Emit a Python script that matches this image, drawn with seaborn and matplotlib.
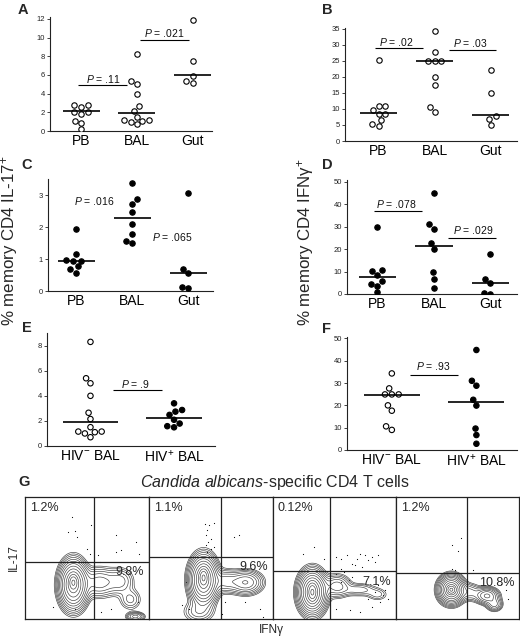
import numpy as np
import pandas as pd
import matplotlib
matplotlib.use("Agg")
import matplotlib.pyplot as plt
import seaborn as sns

sns.set_theme(style="white")
plt.rcParams["font.family"] = ["Liberation Sans", "DejaVu Sans"]
plt.rcParams["mathtext.fontset"] = "custom"
plt.rcParams["mathtext.rm"] = "Liberation Sans"
plt.rcParams["mathtext.it"] = "Liberation Sans:italic"
plt.rcParams["mathtext.bf"] = "Liberation Sans:bold"

# ---------------- data ----------------
sites = ["PB", "BAL", "Gut"]
hiv_groups = ["HIV$^{-}$ BAL", "HIV$^{+}$ BAL"]

# HIV- (open circles), % memory CD4 IL-17+
il17_neg_pb = [2.8, 2.75, 2.6, 2.05, 1.85, 2.0, 1.1, 0.9, 0.2]
il17_neg_bal = [8.3, 5.0, 5.4, 4.0, 2.65, 2.15, 1.5, 1.15, 1.1, 1.0, 1.15, 0.7]
il17_neg_gut = [11.9, 7.5, 5.9, 5.1, 5.35]
il17_neg_median = [2.1, 1.95, 5.95]
# HIV- (open circles), % memory CD4 IFNg+
ifng_neg_pb = [25.2, 10.8, 11.0, 9.7, 8.5, 8.5, 6.5, 5.4, 4.6]
ifng_neg_bal = [34.3, 27.6, 24.9, 24.9, 24.9, 20.0, 17.6, 9.0, 10.6]
ifng_neg_gut = [22.1, 15.0, 7.8, 6.9, 4.9]
ifng_neg_median = [8.75, 24.9, 8.0]
# HIV+ (closed circles), % memory CD4 IL-17+
il17_pos_pb = [1.96, 1.16, 0.95, 0.93, 0.97, 0.78, 0.68, 0.58]
il17_pos_bal = [3.40, 2.87, 2.74, 2.48, 2.09, 1.79, 1.58, 1.49]
il17_pos_gut = [3.08, 0.68, 0.57, 0.08, 0.11]
il17_pos_median = [0.93, 2.29, 0.58]
# HIV+ (closed circles), % memory CD4 IFNg+
ifng_pos_pb = [30.0, 10.7, 10.2, 8.5, 5.9, 4.5, 3.7, 0.7]
ifng_pos_bal = [44.8, 31.0, 28.8, 22.5, 19.9, 9.6, 6.7, 2.8]
ifng_pos_gut = [17.7, 6.7, 4.7, 0.1, 0.6]
ifng_pos_median = [7.7, 21.5, 4.75]
bal_il17_median = [1.95, 2.27]
bal_ifng_median = [24.8, 21.6]

# p-values: (label, text x, text y, line y or None, line x0, line x1)
p_A = [("$P$ = .11", 0.40, 5.55, 4.9, -0.05, 0.82), ("$P$ = .021", 1.50, 10.5, 9.75, 1.06, 1.93)]
p_B = [("$P$ = .02", 0.32, 30.9, 29.1, -0.06, 0.79), ("$P$ = .03", 1.64, 30.6, 28.3, 1.25, 2.10)]
p_C = [("$P$ = .016", 0.32, 2.82, None, 0, 0), ("$P$ = .065", 1.71, 1.70, None, 0, 0)]
p_D = [("$P$ = .078", 0.34, 40.1, 37.1, -0.07, 0.79), ("$P$ = .029", 1.69, 28.5, 24.8, 1.25, 2.10)]
p_E = [("$P$ = .9", 0.54, 4.95, 4.44, 0.27, 0.85)]
p_F = [("$P$ = .93", 0.49, 37.6, 33.6, 0.21, 0.78)]

# flow cytometry panels (G)
flow_il17_pct = ["1.2%", "1.1%", "0.12%", "1.2%"]
flow_ifng_pct = ["9.8%", "9.6%", "7.1%", "10.8%"]
flow_gate_x = [0.56, 0.58, 0.46, 0.58]
flow_gate_y = [0.47, 0.51, 0.39, 0.38]
# population components: (x, y, sx, sy, weight)
flow_pops = [
    [(0.39, 0.28, 0.055, 0.095, 1.0), (0.39, 0.30, 0.02, 0.035, 1.0),
     (0.60, 0.30, 0.08, 0.065, 0.16), (0.77, 0.31, 0.06, 0.06, 0.10),
     (0.85, 0.16, 0.05, 0.05, 0.07), (0.89, 0.02, 0.04, 0.02, 0.15)],
    [(0.44, 0.32, 0.055, 0.095, 1.0), (0.44, 0.34, 0.02, 0.04, 1.0),
     (0.62, 0.31, 0.06, 0.05, 0.15), (0.78, 0.30, 0.07, 0.05, 0.28),
     (0.40, 0.06, 0.07, 0.05, 0.08)],
    [(0.32, 0.22, 0.055, 0.085, 1.0), (0.32, 0.22, 0.02, 0.04, 1.0),
     (0.52, 0.27, 0.06, 0.05, 0.16), (0.70, 0.24, 0.08, 0.03, 0.08),
     (0.85, 0.20, 0.05, 0.03, 0.05)],
    [(0.45, 0.24, 0.05, 0.055, 1.0), (0.45, 0.24, 0.02, 0.02, 1.0),
     (0.60, 0.22, 0.05, 0.04, 0.10), (0.74, 0.19, 0.05, 0.035, 0.30),
     (0.80, 0.12, 0.035, 0.03, 0.15)],
]
flow_events_x = [
    [0.376, 0.349, 0.403, 0.416, 0.536, 0.496, 0.523, 0.589, 0.603, 0.736, 0.776, 0.896,
     0.923, 0.736, 0.229, 0.403, 0.616, 0.696, 0.909],
    [0.451, 0.483, 0.523, 0.469, 0.456, 0.496, 0.477, 0.456, 0.496, 0.469, 0.523, 0.683,
     0.723, 0.296, 0.269, 0.323, 0.616, 0.776, 0.896, 0.589, 0.923],
    [0.336, 0.243, 0.416, 0.509, 0.549, 0.603, 0.643, 0.683, 0.709, 0.749, 0.776, 0.803,
     0.829, 0.856, 0.669, 0.723, 0.549, 0.509, 0.576, 0.643, 0.549, 0.616, 0.856, 0.829,
     0.896, 0.869, 0.776, 0.909, 0.936, 0.803, 0.629, 0.709, 0.509],
    [0.531, 0.456, 0.501, 0.456, 0.483, 0.629, 0.896, 0.909, 0.856],
]
flow_events_y = [
    [0.836, 0.713, 0.719, 0.672, 0.768, 0.577, 0.536, 0.522, 0.467, 0.686, 0.563, 0.631,
     0.536, 0.549, 0.098, 0.084, 0.057, 0.084, 0.139],
    [0.781, 0.768, 0.790, 0.727, 0.686, 0.658, 0.631, 0.604, 0.577, 0.549, 0.590, 0.672,
     0.686, 0.303, 0.112, 0.084, 0.139, 0.139, 0.084, 0.044, 0.016],
    [0.590, 0.535, 0.495, 0.508, 0.495, 0.522, 0.454, 0.495, 0.535, 0.522, 0.481, 0.508,
     0.467, 0.522, 0.440, 0.426, 0.413, 0.372, 0.385, 0.344, 0.303, 0.317, 0.276, 0.221,
     0.194, 0.139, 0.167, 0.235, 0.167, 0.098, 0.071, 0.057, 0.084],
    [0.664, 0.604, 0.557, 0.406, 0.399, 0.404, 0.235, 0.167, 0.290],
]

# ---------------- layout ----------------
W, H = 520, 637
fig = plt.figure(figsize=(W / 100, H / 100), dpi=100)


def rect(x0, x1, ytop, ybot):
    return [x0 / W, 1 - ybot / H, (x1 - x0) / W, (ybot - ytop) / H]


def long_df(groups, arrays):
    rows = []
    for g, arr in zip(groups, arrays):
        for v in arr:
            rows.append((g, v))
    return pd.DataFrame(rows, columns=["group", "value"])


def scatter_panel(box, groups, arrays, medians, filled, ylim, yticks, xlim, pvals):
    ax = fig.add_axes(rect(*box))
    df = long_df(groups, arrays)
    kw = dict(size=3.9, linewidth=0.8, edgecolor="black")
    if isinstance(filled, list):
        fc = {g: ("black" if f else "white") for g, f in zip(groups, filled)}
        sns.swarmplot(data=df, x="group", y="value", hue="group", palette=fc,
                      order=groups, hue_order=groups, legend=False, ax=ax, **kw)
    else:
        sns.swarmplot(data=df, x="group", y="value", order=groups,
                      color=("black" if filled else "white"), ax=ax, **kw)
    for i, m in enumerate(medians):
        ax.hlines(m, i - 0.33, i + 0.33, color="black", lw=1.2, zorder=4)
    for (lab, tx, ty, ly, lx0, lx1) in pvals:
        ax.text(tx, ty, lab, ha="center", va="center", fontsize=7.5, color="#111")
        if ly is not None:
            ax.hlines(ly, lx0, lx1, color="black", lw=0.8)
    ax.set_xlim(*xlim)
    ax.set_ylim(*ylim)
    ax.set_yticks(yticks)
    ax.set_xlabel("")
    ax.set_ylabel("")
    for s in ["top", "right"]:
        ax.spines[s].set_visible(False)
    for s in ["left", "bottom"]:
        ax.spines[s].set_color("#222")
        ax.spines[s].set_linewidth(0.8)
    ax.tick_params(axis="y", length=2.5, width=0.6, pad=1, labelsize=5.5,
                   colors="#222", left=True, direction="out")
    ax.tick_params(axis="x", length=0, pad=2, labelsize=10, colors="black")
    return ax


scatter_panel((50, 212, 17.1, 131), sites, [il17_neg_pb, il17_neg_bal, il17_neg_gut],
              il17_neg_median, False, (0, 12.2), range(0, 13, 2), (-0.56, 2.35), p_A)
scatter_panel((345, 517, 28, 141), sites, [ifng_neg_pb, ifng_neg_bal, ifng_neg_gut],
              ifng_neg_median, False, (0, 35.2), range(0, 36, 5), (-0.6, 2.47), p_B)
scatter_panel((48, 213, 179.4, 291), sites, [il17_pos_pb, il17_pos_bal, il17_pos_gut],
              il17_pos_median, True, (0, 3.5), range(0, 4), (-0.5, 2.44), p_C)
scatter_panel((347, 517, 180.4, 294), sites, [ifng_pos_pb, ifng_pos_bal, ifng_pos_gut],
              ifng_pos_median, True, (0, 50.6), range(0, 51, 10), (-0.54, 2.47), p_D)
scatter_panel((47, 215, 333.1, 446), hiv_groups, [il17_neg_bal, il17_pos_bal],
              bal_il17_median, [False, True], (0, 9), range(0, 9, 2), (-0.52, 1.49), p_E)
scatter_panel((347, 517, 336.6, 450), hiv_groups, [ifng_neg_bal, ifng_pos_bal],
              bal_ifng_median, [False, True], (0, 50.8), range(0, 51, 10), (-0.53, 1.48), p_F)

# panel letters
for lab, x, y in [("A", 18, 3), ("B", 322, 3), ("C", 21, 158), ("D", 322, 158),
                  ("E", 22, 321), ("F", 322, 322), ("G", 18, 475)]:
    fig.text(x / W, 1 - y / H, lab, fontsize=10.5, fontweight="bold", ha="left", va="top")

fig.text(10 / W, 1 - 241 / H, "% memory CD4 IL-17$^{+}$", rotation=90, ha="center",
         va="center", fontsize=12.2)
fig.text(306 / W, 1 - 242 / H, "% memory CD4 IFN\u03b3$^{+}$", rotation=90, ha="center",
         va="center", fontsize=12.2)

# ---------------- flow panels ----------------
fig.text(275 / W, 1 - 483 / H, "$\\it{Candida\\ albicans}$-specific CD4 T cells",
         ha="center", va="center", fontsize=11.5)
fig.text(14 / W, 1 - 558 / H, "IL-17", rotation=90, ha="center", va="center", fontsize=8.5)
fig.text(271 / W, 1 - 630 / H, "IFN\u03b3", ha="center", va="center", fontsize=8.5)

gx = np.linspace(0, 1, 300)
GX, GY = np.meshgrid(gx, gx)
flow_left = [25, 149, 273, 396]
flow_right = [149, 273, 396, 519]
for i in range(4):
    ax = fig.add_axes(rect(flow_left[i], flow_right[i], 497, 619))
    Z = np.zeros_like(GX)
    for (cx, cy, sx, sy, w) in flow_pops[i]:
        Z += w * np.exp(-0.5 * (((GX - cx) / sx) ** 2 + ((GY - cy) / sy) ** 2))
    levels = Z.max() * np.geomspace(0.01, 0.9, 13)
    ax.contour(GX, GY, Z, levels=levels, colors="#3a3a3a", linewidths=0.45)
    ax.scatter(flow_events_x[i], flow_events_y[i], s=0.7, color="black", linewidths=0)
    ax.axvline(flow_gate_x[i], color="#222", lw=0.9)
    ax.axhline(flow_gate_y[i], color="#222", lw=0.9)
    ax.text(0.04, 0.91, flow_il17_pct[i], ha="left", va="center", fontsize=9)
    ax.text(0.96, flow_gate_y[i] - 0.085, flow_ifng_pct[i], ha="right", va="center", fontsize=9)
    ax.set_xlim(0, 1)
    ax.set_ylim(0, 1)
    ax.set_xticks([])
    ax.set_yticks([])
    for s in ax.spines.values():
        s.set_color("#222")
        s.set_linewidth(0.9)
        s.set_visible(True)

fig.savefig("out.png", dpi=100)
